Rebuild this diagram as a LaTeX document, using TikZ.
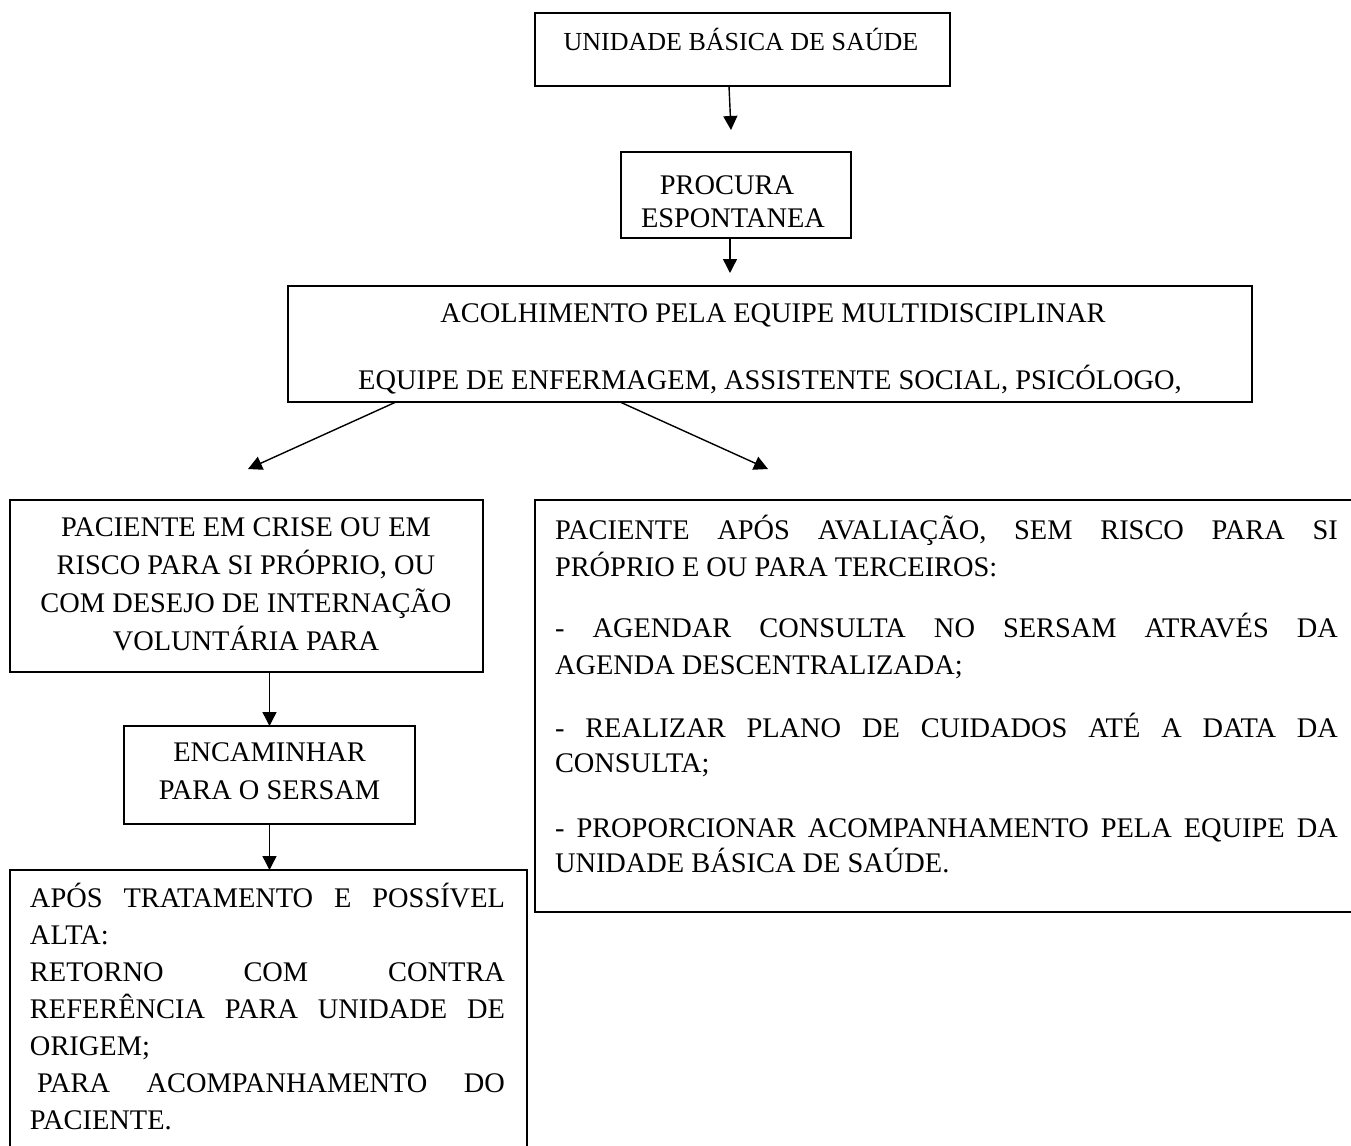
\documentclass[tikz,border=0pt]{standalone}
\usepackage{fontspec}
\setmainfont{Liberation Serif}
\usetikzlibrary{arrows.meta}
\begin{document}
\begin{tikzpicture}[x=0.5pt,y=-0.5pt,
  box/.style={draw, line width=1pt, inner sep=0pt, outer sep=0pt},
  lbl/.style={inner sep=0pt, outer sep=0pt, font=\fontsize{14.2}{17}\selectfont},
  small/.style={inner sep=0pt, outer sep=0pt, font=\fontsize{13}{15}\selectfont},
  arr/.style={line width=0.7pt, -{Triangle[length=7pt,width=7pt]}}]
\useasboundingbox (0,0) rectangle (1351,1146);
\clip (0,0) rectangle (1351,1146);

% boxes
\node[box, minimum width=207.5pt, minimum height=36.5pt] (b1) at (742.5,49.5) {};
\node[box, minimum width=115pt, minimum height=43pt] (b2) at (736,195) {};
\node[box, minimum width=482pt, minimum height=58pt] (b3) at (770,344) {};
\node[box, minimum width=236.5pt, minimum height=86pt] (b4) at (246.5,586) {};
\node[box, minimum width=145.5pt, minimum height=49pt] (b5) at (269.5,775) {};
\node[box, minimum width=258.5pt, minimum height=155pt] (b6) at (268.5,1025) {};
\node[box, minimum width=422.5pt, minimum height=206pt] (b7) at (957.5,706) {};

% free arrow ends
\coordinate (e1) at (731,130);
\coordinate (e2) at (730,273);
\coordinate (e3) at (248,469);
\coordinate (e4) at (768,469);

% connectors
\draw[arr] ([xshift=-6.75pt]b1.south) -- (e1);
\draw[arr] ([xshift=-3pt]b2.south) -- (e2);
\draw[arr] ([xshift=-187pt]b3.south) -- (e3);
\draw[arr] ([xshift=-75pt]b3.south) -- (e4);
\draw[arr] (b4.south -| b5.north) -- (b5.north);
\draw[arr] (b5.south) -- (b5.south |- b6.north);

% texts
\node[small, anchor=base] (t1) at (741,50.6) {UNIDADE BÁSICA DE SAÚDE};

\node[lbl, anchor=base] (t2a) at (727,194.4) {PROCURA};
\node[lbl, anchor=base] (t2b) at (733,227.4) {ESPONTANEA};

\node[lbl, anchor=base] (t3a) at (773,322.4) {ACOLHIMENTO PELA EQUIPE MULTIDISCIPLINAR};
\node[lbl, anchor=base] (t3b) at (770,389.4) {EQUIPE DE ENFERMAGEM, ASSISTENTE SOCIAL, PSICÓLOGO,};

\node[lbl, anchor=base] (t4a) at (246,536.4) {PACIENTE EM CRISE OU EM};
\node[lbl, anchor=base] (t4b) at (246,574.4) {RISCO PARA SI PRÓPRIO, OU};
\node[lbl, anchor=base] (t4c) at (246,612.4) {COM DESEJO DE INTERNAÇÃO};
\node[lbl, anchor=base] (t4d) at (246,650.4) {VOLUNTÁRIA PARA};

\node[lbl, anchor=base] (t5a) at (269.5,761.4) {ENCAMINHAR};
\node[lbl, anchor=base] (t5b) at (269.5,799.4) {PARA O SERSAM};

\node[lbl, anchor=base west] (t6a) at (30,907.4) {\makebox[237.5pt][s]{APÓS TRATAMENTO E POSSÍVEL}};
\node[lbl, anchor=base west] (t6b) at (30,944.4) {ALTA:};
\node[lbl, anchor=base west] (t6c) at (30,981.4) {\makebox[237.5pt][s]{RETORNO COM CONTRA}};
\node[lbl, anchor=base west] (t6d) at (30,1018.4) {\makebox[237.5pt][s]{REFERÊNCIA PARA UNIDADE DE}};
\node[lbl, anchor=base west] (t6e) at (30,1055.4) {ORIGEM;};
\node[lbl, anchor=base west] (t6f) at (30,1092.4) {\makebox[237.5pt][s]{\hspace{3.5pt}PARA ACOMPANHAMENTO DO}};
\node[lbl, anchor=base west] (t6g) at (30,1129.4) {PACIENTE.};

\node[lbl, anchor=base west] (t7a) at (555,539.4) {\makebox[391.5pt][s]{PACIENTE APÓS AVALIAÇÃO, SEM RISCO PARA SI}};
\node[lbl, anchor=base west] (t7b) at (555,576.4) {PRÓPRIO E OU PARA TERCEIROS:};
\node[lbl, anchor=base west] (t7c) at (555,637.4) {\makebox[391.5pt][s]{- AGENDAR CONSULTA NO SERSAM ATRAVÉS DA}};
\node[lbl, anchor=base west] (t7d) at (555,674.4) {AGENDA DESCENTRALIZADA;};
\node[lbl, anchor=base west] (t7e) at (555,737.4) {\makebox[391.5pt][s]{- REALIZAR PLANO DE CUIDADOS ATÉ A DATA DA}};
\node[lbl, anchor=base west] (t7f) at (555,772.4) {CONSULTA;};
\node[lbl, anchor=base west] (t7g) at (555,837.4) {\makebox[391.5pt][s]{- PROPORCIONAR ACOMPANHAMENTO PELA EQUIPE DA}};
\node[lbl, anchor=base west] (t7h) at (555,872.4) {UNIDADE BÁSICA DE SAÚDE.};
\end{tikzpicture}
\end{document}
